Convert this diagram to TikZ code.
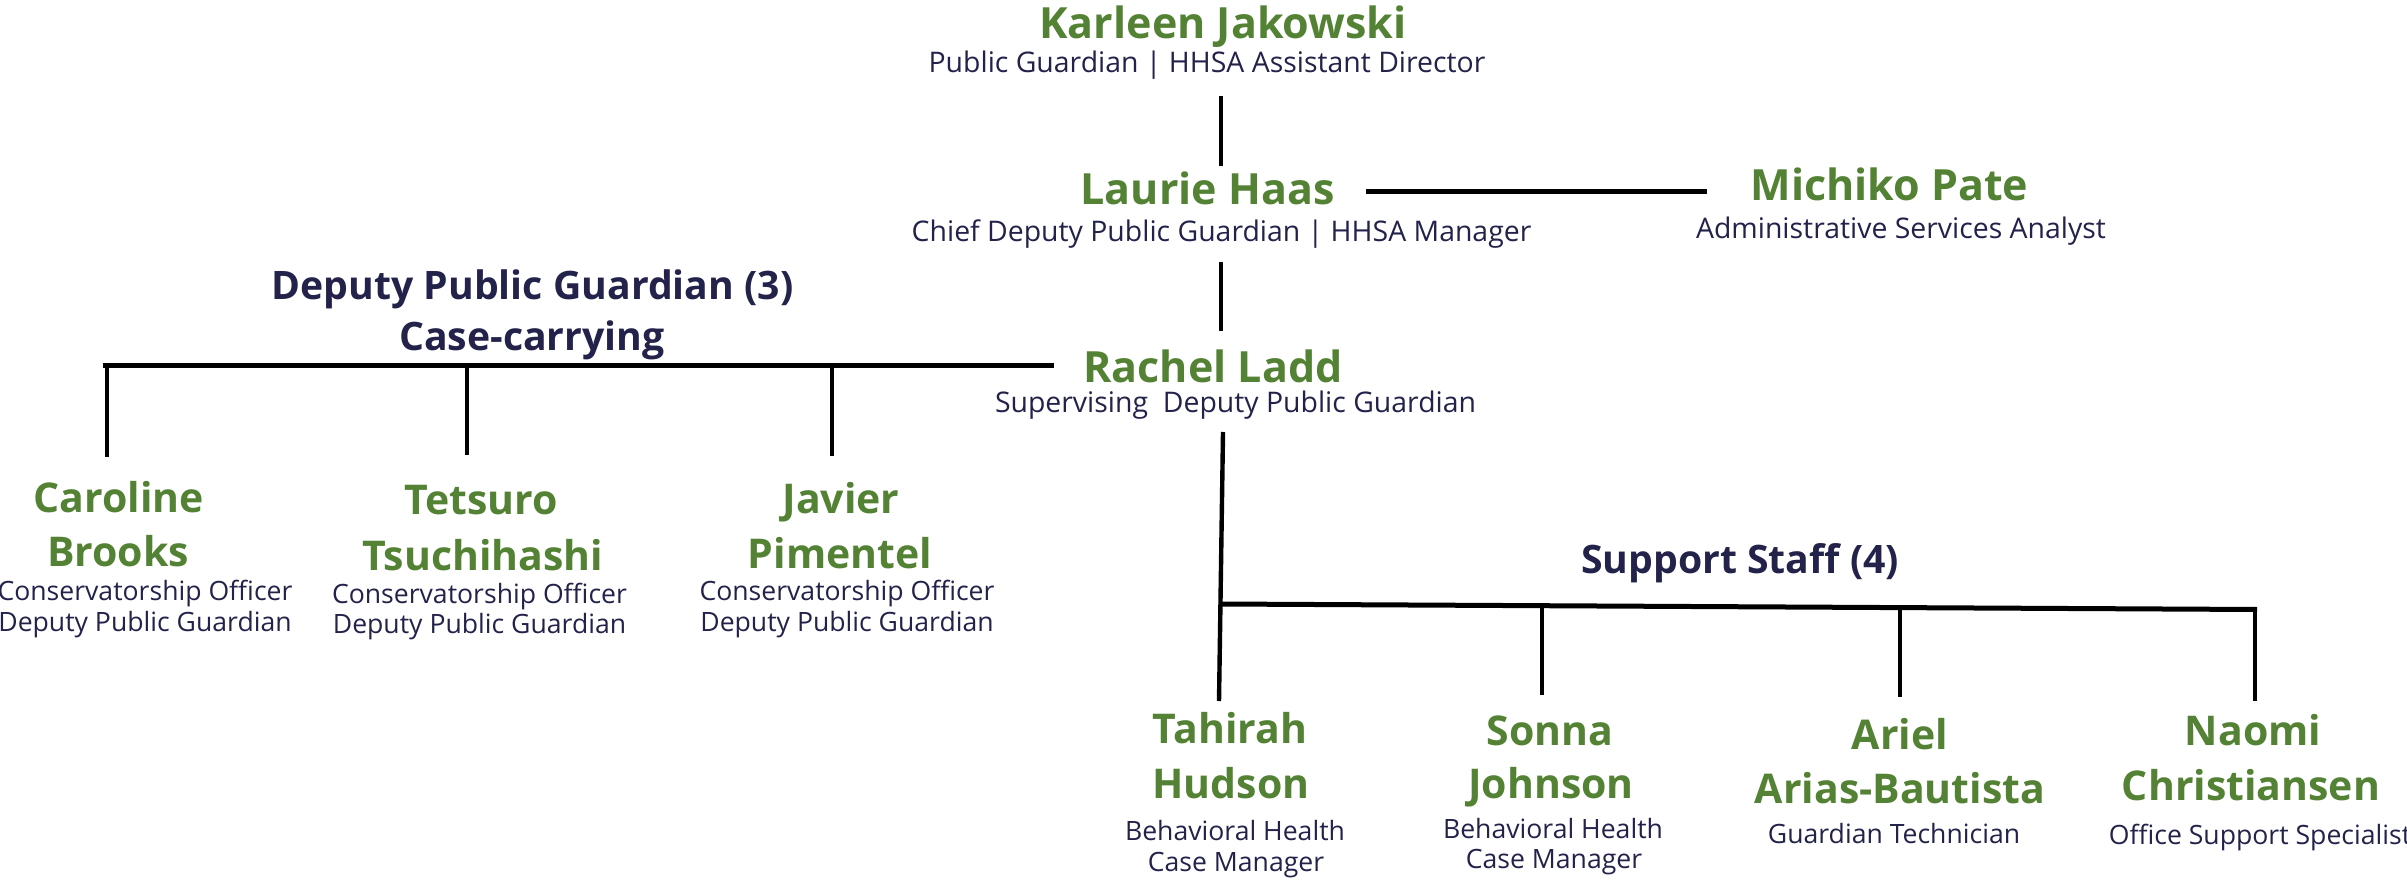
\documentclass[tikz,border=0pt]{standalone}
\usepackage{fontspec}
\setmainfont{Open Sans}
\definecolor{nmgreen}{HTML}{548235}
\definecolor{navy}{HTML}{22224A}
\begin{document}
\begin{tikzpicture}[x=0.5pt,y=-0.5pt,
  every node/.style={inner sep=0pt,outer sep=0pt,anchor=base},
  nmtop/.style={text=nmgreen,font=\fontsize{21.5}{25}\selectfont\bfseries},
  nmlow/.style={text=nmgreen,font=\fontsize{20.5}{24}\selectfont\bfseries},
  grp/.style={text=navy,font=\fontsize{19.6}{23}\selectfont\bfseries},
  role/.style={text=navy,font=\fontsize{13.3}{16}\selectfont},
  roletop/.style={text=navy,font=\fontsize{14.2}{17}\selectfont},
  vline/.style={draw=black,line width=2.2pt},
  hline/.style={draw=black,line width=2.5pt}]
\useasboundingbox (0,0) rectangle (2407,881);
% top
\node[nmtop] (kj) at (1223,39) {Karleen Jakowski};
\node[roletop] (kjr) at (1207,73) {Public Guardian | HHSA Assistant Director};
\node[nmtop] (lh) at (1207.5,205) {Laurie Haas};
\node[roletop] (lhr) at (1221.5,242) {Chief Deputy Public Guardian | HHSA Manager};
\node[nmtop] (mp) at (1889.5,201) {Michiko Pate};
\node[roletop] (mpr) at (1901,239) {Administrative Services Analyst};
\node[nmtop] (rl) at (1213,383) {Rachel Ladd};
\node[roletop] (rlr) at (1235.5,413) {Supervising\ \ Deputy Public Guardian};
% groups
\node[grp] (dpg) at (532.5,300) {Deputy Public Guardian (3)};
\node[grp] (cc) at (532,351) {Case-carrying};
\node[grp] (ss) at (1740,573) {Support Staff (4)};
% deputies
\node[nmlow] (cb1) at (119,512) {Caroline};
\node[nmlow] (cb2) at (118,566) {Brooks};
\node[role] (cbr1) at (145,600) {Conservatorship Officer};
\node[role] (cbr2) at (145,631) {Deputy Public Guardian};
\node[nmlow] (tt1) at (481,515) {Tetsuro};
\node[nmlow] (tt2) at (483,570) {Tsuchihashi};
\node[role] (ttr1) at (479.5,603) {Conservatorship Officer};
\node[role] (ttr2) at (479.5,633) {Deputy Public Guardian};
\node[nmlow] (jp1) at (841,513) {Javier};
\node[nmlow] (jp2) at (840,568) {Pimentel};
\node[role] (jpr1) at (847,600) {Conservatorship Officer};
\node[role] (jpr2) at (847,631) {Deputy Public Guardian};
% support staff
\node[nmlow] (th1) at (1230,743) {Tahirah};
\node[nmlow] (th2) at (1231,798) {Hudson};
\node[role] (thr1) at (1235,840) {Behavioral Health};
\node[role] (thr2) at (1236,871) {Case Manager};
\node[nmlow] (sj1) at (1550,745) {Sonna};
\node[nmlow] (sj2) at (1551,798) {Johnson};
\node[role] (sjr1) at (1553,838) {Behavioral Health};
\node[role] (sjr2) at (1554,868) {Case Manager};
\node[nmlow] (aa1) at (1900,749) {Ariel};
\node[nmlow] (aa2) at (1900,803) {Arias-Bautista};
\node[role] (aar) at (1894,843) {Guardian Technician};
\node[nmlow] (nc1) at (2253,745) {Naomi};
\node[nmlow] (nc2) at (2251,800) {Christiansen};
\node[role] (ncr) at (2260,844) {Office Support Specialist};
% connector points
\coordinate (kjB) at (1221,96);
\coordinate (lhT) at (1221,166);
\coordinate (lhE) at (1366,192);
\coordinate (mpW) at (1707,192);
\coordinate (lhB) at (1221,262);
\coordinate (rlT) at (1221,331);
\coordinate (dL) at (103,365.5);
\coordinate (dR) at (1054,365.5);
\coordinate (d1T) at (107,365);
\coordinate (d1B) at (107,457);
\coordinate (d2T) at (467,365);
\coordinate (d2B) at (467,455);
\coordinate (d3T) at (832,365);
\coordinate (d3B) at (832,456);
\coordinate (rlB) at (1223,432);
\coordinate (thT) at (1219,701);
\coordinate (sL) at (1220,604);
\coordinate (sR) at (2257,609.5);
\coordinate (s2T) at (1542,605);
\coordinate (s2B) at (1542,695);
\coordinate (s3T) at (1900,607);
\coordinate (s3B) at (1900,697);
\coordinate (s4T) at (2255,609);
\coordinate (s4B) at (2255,701);
% connectors
\draw[vline] (kjB) -- (lhT);
\draw[hline] (lhE) -- (mpW);
\draw[vline] (lhB) -- (rlT);
\draw[hline] (dL) -- (dR);
\draw[vline] (d1T) -- (d1B);
\draw[vline] (d2T) -- (d2B);
\draw[vline] (d3T) -- (d3B);
\draw[vline] (rlB) -- (thT);
\draw[hline] (sL) -- (sR);
\draw[vline] (s2T) -- (s2B);
\draw[vline] (s3T) -- (s3B);
\draw[vline] (s4T) -- (s4B);
\end{tikzpicture}
\end{document}
